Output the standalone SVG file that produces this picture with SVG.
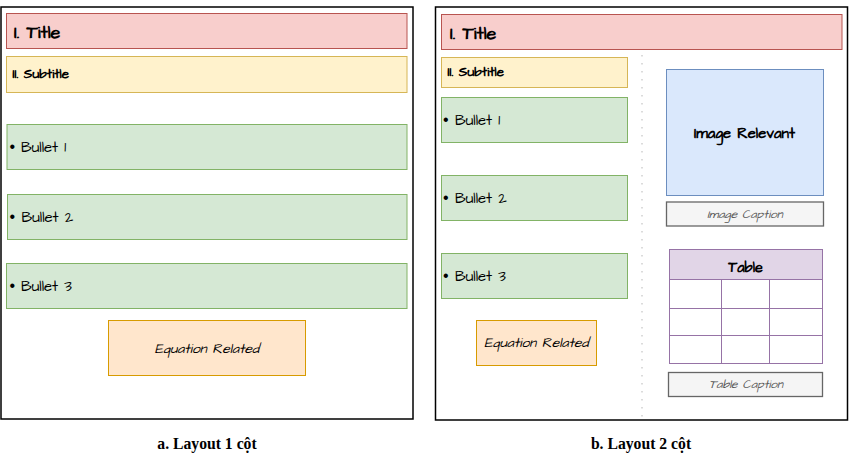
<svg xmlns="http://www.w3.org/2000/svg" width="849" height="459" viewBox="0 0 849 459">
<style>
text{font-family:"Architects Daughter","Liberation Sans",Arial,sans-serif;fill:#000}
.frame{fill:#fff;stroke:#000;stroke-width:1.5}
.title rect{fill:#f8cecc;stroke:#b85450}
.sub rect{fill:#fff2cc;stroke:#d6b656}
.bul rect{fill:#d5e8d4;stroke:#82b366}
.eq rect{fill:#ffe6cc;stroke:#d79b00}
.img rect{fill:#dae8fc;stroke:#6c8ebf}
.cap rect{fill:#f5f5f5;stroke:#666;stroke-width:1.3}
.tt{font-size:18px;font-weight:bold}
.st{font-size:13.4px;font-weight:bold}
.bt{font-size:15px}
.dot{font-family:"Liberation Sans",Arial,sans-serif;font-size:16px}
.et{font-size:13.9px;font-style:italic;text-anchor:middle}
.ct{font-size:12px;font-style:italic;fill:#555;text-anchor:middle}
.bold{font-weight:bold;text-anchor:middle}
.tbl{fill:none;stroke:#9673a6}
.lbl{font-family:"Liberation Serif","Times New Roman",serif;font-size:15.7px;font-weight:bold;text-anchor:middle}
</style>
<rect width="849" height="459" fill="#fff"/>
<g id="layout-a">
<rect class="frame" x="1" y="7" width="412" height="412"/>
<g id="a-title" class="title"><rect x="6.5" y="13.5" width="400.5" height="35"/><text class="tt" x="14" y="38">I. Title</text></g>
<g id="a-subtitle" class="sub"><rect x="6.5" y="56.5" width="400.5" height="36"/><text class="st" x="12.5" y="78">II. Subtitle</text></g>
<g id="a-bullet1" class="bul"><rect x="7" y="124.5" width="400" height="45"/><text class="dot" x="9.5" y="152">•</text><text class="bt" x="21" y="152">Bullet 1</text></g>
<g id="a-bullet2" class="bul"><rect x="7.5" y="194.5" width="399.5" height="45"/><text class="dot" x="9.5" y="222">•</text><text class="bt" x="21.5" y="222">Bullet 2</text></g>
<g id="a-bullet3" class="bul"><rect x="6.5" y="263.5" width="400.5" height="45"/><text class="dot" x="9.5" y="291">•</text><text class="bt" x="21" y="291">Bullet 3</text></g>
<g id="a-equation" class="eq"><rect x="108.5" y="320.5" width="197" height="55"/><text class="et" x="207" y="352.5">Equation Related</text></g>
</g>
<g id="layout-b">
<rect class="frame" x="435.5" y="7" width="412" height="413"/>
<g id="connectors"><line x1="642" y1="55" x2="642" y2="417" stroke="#d0d0d0" stroke-width="1.5" stroke-dasharray="1.5 6.5"/></g>
<g id="b-title" class="title"><rect x="441.5" y="14.5" width="400.5" height="35"/><text class="tt" x="450" y="39">I. Title</text></g>
<g id="b-subtitle" class="sub"><rect x="441.5" y="57.5" width="186" height="30"/><text class="st" x="447.5" y="76">II. Subtitle</text></g>
<g id="b-bullet1" class="bul"><rect x="441.5" y="97.5" width="186" height="45"/><text class="dot" x="443" y="125">•</text><text class="bt" x="455" y="125">Bullet 1</text></g>
<g id="b-bullet2" class="bul"><rect x="441.5" y="175.5" width="186" height="45"/><text class="dot" x="443" y="203">•</text><text class="bt" x="455" y="203">Bullet 2</text></g>
<g id="b-bullet3" class="bul"><rect x="441.5" y="253.5" width="186" height="45"/><text class="dot" x="443" y="281">•</text><text class="bt" x="455" y="281">Bullet 3</text></g>
<g id="b-equation" class="eq"><rect x="476.5" y="320.5" width="120" height="45"/><text class="et" x="536.5" y="347">Equation Related</text></g>
<g id="b-image" class="img"><rect x="666.5" y="69.5" width="157" height="126"/><text class="bold" x="744.5" y="137.5" font-size="14.9px">Image Relevant</text></g>
<g id="b-image-caption" class="cap"><rect x="666.5" y="202" width="157" height="24"/><text class="ct" x="745" y="218">Image Caption</text></g>
<g id="b-table">
<rect x="669.5" y="249.5" width="153" height="30" fill="#e1d5e7" stroke="#9673a6"/>
<rect class="tbl" x="669.5" y="279.5" width="153" height="84"/>
<path class="tbl" d="M669.5 308.5H822.5M669.5 335.5H822.5M721.5 279.5V363.5M769.5 279.5V363.5"/>
<text class="bold" x="745.5" y="271.5" font-size="14.4px">Table</text>
</g>
<g id="b-table-caption" class="cap"><rect x="668.5" y="372.5" width="154" height="24"/><text class="ct" x="746" y="388">Table Caption</text></g>
</g>
<text class="lbl" x="207" y="449">a. Layout 1 cột</text>
<text class="lbl" x="641" y="449">b. Layout 2 cột</text>
</svg>
